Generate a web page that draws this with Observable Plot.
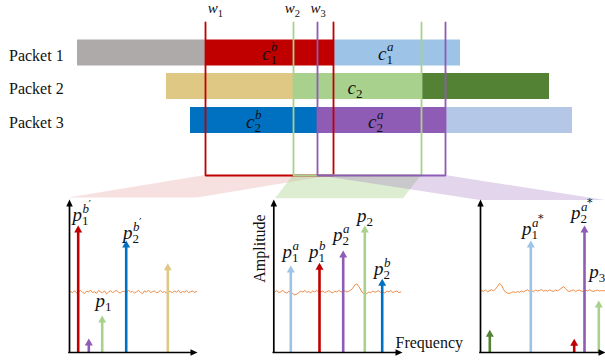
<!DOCTYPE html>
<html><head><meta charset="utf-8">
<script src="https://cdn.jsdelivr.net/npm/d3@7"></script>
<script src="https://cdn.jsdelivr.net/npm/@observablehq/plot@0.6"></script>
<style>html,body{margin:0;padding:0;background:#fff}</style>
</head><body><div id="chart"></div>
<script>
// ---------- data (diagram units = pixels of the 605x362 figure) ----------
const packets = ["Packet 1", "Packet 2", "Packet 3"];
const packetTop = [39.5, 73, 107];
const packetBottom = [65.5, 99, 133];
const packetLabelY = [60, 93.5, 127.3];

const segPacket = [0, 0, 0, 1, 1, 1, 2, 2, 2];
const segStart = [77, 205, 333, 166, 293, 421, 190, 317, 446];
const segEnd   = [205, 333, 460, 293, 421, 549, 317, 446, 572];
const segColor = ["#aeaaaa", "#c00000", "#9dc3e6", "#dfc884", "#a9d18e", "#548235", "#0070c0", "#8e5bb5", "#b4c7e7"];

const barLabelX = [261.5, 377.5, 347, 245.5, 367.5];
const barLabelY = [59.5, 59.5, 93.5, 127.5, 127.5];
const barLabelSub = ["1", "1", "2", "2", "2"];
const barLabelSup = ["b", "a", "", "b", "a"];

const windowNames = ["1", "2", "3"];
const windowLeft = [205, 293, 317];
const windowRight = [333, 421, 445];
const windowColor = ["#c00000", "#a9d18e", "#8e5bb5"];
const windowTop = 22, windowBottom = 175;
const windowLabelX = [207.3, 284.3, 310];
const windowLabelY = 12.7;

const zoomBottomLeft = [68, 275, 480];
const zoomBottomRight = [197, 403, 605];
const zoomBottomY = [197.5, 198.3, 200];
const zoomOpacity = [0.12, 0.4, 0.25];

const panelX0 = [69, 273.3, 480];
const panelX1 = [197, 402, 605];
const panelTop = 199, panelBottom = 352;

const peakPanel = [0, 0, 0, 0, 0, 1, 1, 1, 1, 1, 2, 2, 2, 2, 2];
const peakX   = [77.7, 88.3, 101.7, 125.7, 167.3, 290.3, 319, 342.7, 364.3, 381.7, 489.3, 530.3, 573.7, 584, 598.3];
const peakTip = [225, 338, 315, 240, 262.7, 265, 262.3, 250, 225, 278.3, 329.3, 240, 338.3, 225, 300];
const peakColor = ["#c00000", "#8e5bb5", "#a9d18e", "#0070c0", "#dfc884",
                   "#9dc3e6", "#c00000", "#8e5bb5", "#a9d18e", "#0070c0",
                   "#548235", "#9dc3e6", "#c00000", "#8e5bb5", "#a9d18e"];

const peakLabelX = [72, 122.5, 95, 282, 308.5, 332.5, 356.5, 373.5, 521.5, 570.5, 588.8];
const peakLabelY = [220, 238.3, 306, 257.3, 257.3, 240, 221.7, 274, 234.3, 218.3, 277.7];
const peakLabelSub = ["1", "2", "1", "1", "1", "2", "2", "2", "1", "2", "3"];
const peakLabelSup = ["b", "b", "", "a", "b", "a", "", "b", "a", "a", ""];
const peakLabelMark = ["′", "′", "", "", "", "", "", "", "*", "*", ""];

const noiseBase = [291, 291, 290];
const noiseStep = 2;
const noise1 = [0,1.2,-0.8,1.5,0.3,-1.2,0.8,2,-0.5,0.6,-1.5,1,0.2,1.8,-1,0.4,1.2,-0.6,2.4,0.5,-0.8,1,0,-1.4,0.8,1.6,-0.4,0.2,1.1,-1.2,0.6,-0.2,1.5,0.3,-1,0.8,2.2,-0.6,0.4,-1.3,1,0.1,-0.7,1.4,0.5,-1.1,0.9,0.2,1.7,-0.8,0.3,1,-0.5,0.7,-1.2,1.3,0,0.6,-0.9,1.1,0.2,-0.4,0.8,0];
const noise2 = [0.3,-0.8,1,0.2,-1.1,0.7,1.5,-0.3,0.9,2.2,3.5,2.6,1,-0.4,0.6,-1,0.8,0.1,1.3,-0.6,0.4,-1.2,0.9,0.3,-0.5,1.1,0,-0.9,0.6,1.4,-0.3,0.5,-1,0.2,0.8,-0.6,0.4,-0.2,-1.5,-3.5,-6.5,-7.5,-5,-1.5,1.5,2.8,2,0.6,1.2,-0.4,0.7,0,-0.8,1,0.3,1.6,-0.5,0.4,-1,0.9,0.2,-0.6,1.1,0.4];
const noise3 = [0,0.8,-0.5,1.2,0.3,-0.8,0.5,-1.5,-4,-7,-5.5,-1,1.5,2.5,3,2,1.2,2.2,1,1.8,0.5,1.4,0.2,-0.6,0.9,0.1,1.2,-0.4,0.5,0,-1,0.6,-0.3,0.8,-0.7,0.2,1,-0.5,0.3,-0.9,-2.5,-3.8,-2,0.4,1,0.2,-0.6,0.9,0,-0.4,0.7,1.1,-0.2,0.5,-0.8,0.3,1,0.2,-0.5,0.6,0,0.4,0];
const noiseSeries = [noise1, noise2, noise3];

// ---------- build tables ----------
const W = 605, H = 362;
const bars = segStart.map((s, i) => ({x1: s, x2: segEnd[i], y1: packetTop[segPacket[i]], y2: packetBottom[segPacket[i]], fill: segColor[i]}));
const packetLabels = packets.map((p, i) => ({text: p, x: 8.5, y: packetLabelY[i]}));
const barLabels = barLabelX.map((x, i) => ({x, y: barLabelY[i], sub: barLabelSub[i], sup: barLabelSup[i]}));
const windowPaths = windowLeft.flatMap((l, i) => [
  {x: l, y: windowTop, z: i}, {x: l, y: windowBottom, z: i},
  {x: windowRight[i], y: windowBottom, z: i}, {x: windowRight[i], y: windowTop, z: i}
]);
const windowLabels = windowNames.map((n, i) => ({x: windowLabelX[i], y: windowLabelY, sub: n}));
const zooms = windowLeft.map((l, i) => [
  {y: windowBottom, x1: l, x2: windowRight[i]},
  {y: zoomBottomY[i], x1: zoomBottomLeft[i], x2: zoomBottomRight[i]}
]);
const panels = panelX0.map((x0, i) => ({x0, x1: panelX1[i]}));
const peaks = peakX.map((x, i) => ({x, tip: peakTip[i], color: peakColor[i]}));
const peakLabels = peakLabelX.map((x, i) => ({x, y: peakLabelY[i], sub: peakLabelSub[i], sup: peakLabelSup[i], mark: peakLabelMark[i]}));
const noise = noiseSeries.flatMap((arr, p) => arr.map((v, j) => ({x: panelX0[p] + 1 + j * noiseStep, y: noiseBase[p] + v, z: p})))
  .filter(d => d.x <= 605);

const upHead = (w, h) => ({draw(ctx) { ctx.moveTo(0, 0); ctx.lineTo(w / 2, h); ctx.lineTo(-w / 2, h); ctx.closePath(); }});
const rightHead = (w, h) => ({draw(ctx) { ctx.moveTo(0, 0); ctx.lineTo(-h, w / 2); ctx.lineTo(-h, -w / 2); ctx.closePath(); }});

const serif = "Liberation Serif, Times New Roman, serif";
const mathFont = "Liberation Serif, Times New Roman, serif";
const ink = "#111";

const marks = [];
// bars
marks.push(Plot.rect(bars, {x1: "x1", x2: "x2", y1: "y1", y2: "y2", fill: "fill"}));
// packet labels
marks.push(Plot.text(packetLabels, {x: "x", y: "y", text: "text", textAnchor: "start", lineAnchor: "bottom", fontFamily: serif, fontSize: 16, fill: ink}));
// bar math labels
marks.push(Plot.text(barLabels, {x: "x", y: "y", text: () => "c", textAnchor: "start", lineAnchor: "bottom", fontFamily: mathFont, fontStyle: "italic", fontSize: 19, fill: ink}));
marks.push(Plot.text(barLabels, {x: "x", y: "y", text: "sub", dx: 8.5, dy: 3.5, textAnchor: "start", lineAnchor: "bottom", fontFamily: mathFont, fontSize: 13, fill: ink}));
marks.push(Plot.text(barLabels, {x: "x", y: "y", text: "sup", dx: 9, dy: -9, textAnchor: "start", lineAnchor: "bottom", fontFamily: mathFont, fontStyle: "italic", fontSize: 13, fill: ink}));
// zoom trapezoids
zooms.forEach((z, i) => marks.push(Plot.areaX(z, {y: "y", x1: "x1", x2: "x2", fill: windowColor[i], fillOpacity: zoomOpacity[i], curve: "linear"})));
// window lines
marks.push(Plot.line(windowPaths, {x: "x", y: "y", z: "z", stroke: d => windowColor[d.z], strokeWidth: 1.8, strokeLinejoin: "miter", curve: "linear"}));
// window labels
marks.push(Plot.text(windowLabels, {x: "x", y: "y", text: () => "w", textAnchor: "start", lineAnchor: "bottom", fontFamily: mathFont, fontStyle: "italic", fontSize: 15, fill: ink}));
marks.push(Plot.text(windowLabels, {x: "x", y: "y", text: "sub", dx: 10, dy: 3.3, textAnchor: "start", lineAnchor: "bottom", fontFamily: mathFont, fontSize: 10.5, fill: ink}));
// noise
marks.push(Plot.line(noise, {x: "x", y: "y", z: "z", stroke: "#ed7d31", strokeWidth: 0.9, curve: "linear"}));
// peaks
marks.push(Plot.ruleX(peaks, {x: "x", y1: () => panelBottom, y2: d => d.tip + 5, stroke: "color", strokeWidth: 2.6}));
marks.push(Plot.dot(peaks, {x: "x", y: "tip", symbol: upHead(8, 7), fill: "color", stroke: "none"}));
// axes
marks.push(Plot.ruleX(panels, {x: "x0", y1: () => panelBottom + 0.8, y2: () => panelTop + 5, stroke: "#000", strokeWidth: 1.7}));
marks.push(Plot.ruleY(panels, {y: () => panelBottom, x1: d => d.x0 - 0.8, x2: d => d.x1 - 5, stroke: "#000", strokeWidth: 1.7}));
marks.push(Plot.dot(panels, {x: "x0", y: () => panelTop, symbol: upHead(6.5, 7), fill: "#000", stroke: "none"}));
marks.push(Plot.dot(panels, {x: "x1", y: () => panelBottom, symbol: rightHead(6.5, 7), fill: "#000", stroke: "none"}));
// peak labels
marks.push(Plot.text(peakLabels, {x: "x", y: "y", text: () => "p", textAnchor: "start", lineAnchor: "bottom", fontFamily: mathFont, fontStyle: "italic", fontSize: 19, fill: ink}));
marks.push(Plot.text(peakLabels, {x: "x", y: "y", text: "sub", dx: 9.5, dy: 4, textAnchor: "start", lineAnchor: "bottom", fontFamily: mathFont, fontSize: 13, fill: ink}));
marks.push(Plot.text(peakLabels, {x: "x", y: "y", text: "sup", dx: 10, dy: -8, textAnchor: "start", lineAnchor: "bottom", fontFamily: mathFont, fontStyle: "italic", fontSize: 13, fill: ink}));
marks.push(Plot.text(peakLabels, {x: "x", y: "y", text: "mark", dx: 16, dy: -12.5, textAnchor: "start", lineAnchor: "bottom", fontFamily: "DejaVu Serif, serif", fontSize: 11, fill: ink}));
// axis titles
marks.push(Plot.text([{x: 259, y: 248, t: "Amplitude"}], {x: "x", y: "y", text: "t", rotate: -90, textAnchor: "middle", lineAnchor: "middle", fontFamily: serif, fontSize: 16, fill: ink}));
marks.push(Plot.text([{x: 395, y: 347, t: "Frequency"}], {x: "x", y: "y", text: "t", textAnchor: "start", lineAnchor: "bottom", fontFamily: serif, fontSize: 16, fill: ink}));

const chart = Plot.plot({
  width: W, height: H, margin: 0,
  x: {domain: [0, W], range: [0, W], axis: null},
  y: {domain: [0, H], range: [0, H], axis: null},
  color: {type: "identity"},
  style: {background: "#fff", overflow: "visible"},
  marks
});
document.getElementById("chart").appendChild(chart);
</script></body></html>
